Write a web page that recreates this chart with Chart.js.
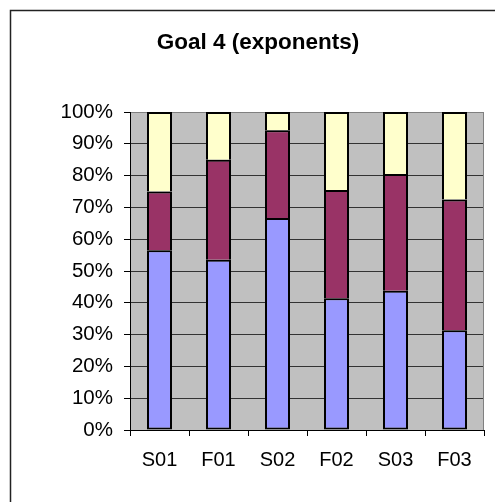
<!DOCTYPE html>
<html>
<head>
<meta charset="utf-8">
<script src="https://cdn.jsdelivr.net/npm/chart.js@4"></script>
<style>
html,body{margin:0;padding:0;background:#fff;}
#wrap{width:495px;height:502px;position:relative;}
</style>
</head>
<body>
<div id="wrap"><canvas id="c"></canvas></div>
<script>
const titleText = "Goal 4 (exponents)";
const categories = ["S01", "F01", "S02", "F02", "S03", "F03"];
const seriesBlue = [56.5, 53.5, 66.7, 41.4, 43.8, 31.4];
const seriesMaroon = [18.5, 31.5, 27.6, 34.1, 36.7, 41.1];
const seriesYellow = [25.0, 15.0, 5.7, 24.5, 19.5, 27.5];
const yTicks = [0, 10, 20, 30, 40, 50, 60, 70, 80, 90, 100];

const FONT = "'Liberation Sans', Arial, sans-serif";

const decor = {
  id: 'decor',
  beforeDraw(chart) {
    const ctx = chart.ctx, a = chart.chartArea;
    ctx.save();
    ctx.fillStyle = '#fff';
    ctx.fillRect(0, 0, chart.width, chart.height);
    ctx.fillStyle = '#C0C0C0';
    ctx.fillRect(a.left, a.top, a.right - a.left, a.bottom - a.top);
    ctx.strokeStyle = '#222';
    ctx.lineWidth = 1.5;
    ctx.strokeRect(10.5, 10.5, 700, 700);
    ctx.fillStyle = '#000';
    ctx.font = 'bold 22.5px ' + FONT;
    ctx.textAlign = 'center';
    ctx.textBaseline = 'alphabetic';
    ctx.fillText(titleText, 258, 49);
    ctx.restore();
  },
  beforeDatasetsDraw(chart) {
    const ctx = chart.ctx, a = chart.chartArea;
    ctx.save();
    ctx.strokeStyle = '#808080';
    ctx.lineWidth = 1;
    ctx.beginPath();
    ctx.moveTo(Math.round(a.right) - 0.5, a.top);
    ctx.lineTo(Math.round(a.right) - 0.5, a.bottom);
    ctx.stroke();
    ctx.restore();
  }
};

const common = { borderColor: '#000', borderSkipped: false, barThickness: 25, inflateAmount: 0 };
const fullBorder = { top: 2, bottom: 2, left: 2, right: 2 };
const openBottom = { top: 2, bottom: 0, left: 2, right: 2 };

new Chart(document.getElementById('c'), {
  type: 'bar',
  data: {
    labels: categories,
    datasets: [
      Object.assign({ label: 'A', data: seriesBlue, backgroundColor: '#9999FF', borderWidth: fullBorder }, common),
      Object.assign({ label: 'B', data: seriesMaroon, backgroundColor: '#993366', borderWidth: openBottom }, common),
      Object.assign({ label: 'C', data: seriesYellow, backgroundColor: '#FFFFCC', borderWidth: openBottom }, common)
    ]
  },
  options: {
    responsive: true,
    maintainAspectRatio: false,
    animation: false,
    devicePixelRatio: 1,
    layout: { padding: { left: 0, right: 11, top: 112, bottom: 0 } },
    plugins: { legend: { display: false }, title: { display: false }, tooltip: { enabled: false } },
    scales: {
      x: {
        stacked: true,
        afterFit(s) { s.height = 72; },
        grid: { display: true, offset: true, drawOnChartArea: false, drawTicks: true, tickLength: 6, color: '#000', tickColor: '#000' },
        border: { display: true, color: '#000', width: 1 },
        ticks: { color: '#000', font: { family: FONT, size: 20 }, padding: 12, maxRotation: 0, autoSkip: false }
      },
      y: {
        stacked: true,
        min: 0, max: 100,
        afterFit(s) { s.width = 130; },
        afterBuildTicks(s) { s.ticks = yTicks.map(v => ({ value: v })); },
        grid: {
          color: (c) => (c.tick && c.tick.value === 100) ? '#808080' : '#333333',
          tickColor: '#000', tickLength: 6, drawTicks: true, lineWidth: 1
        },
        border: { display: true, color: '#000', width: 1 },
        ticks: { color: '#000', font: { family: FONT, size: 20.5 }, padding: 11, callback: (v) => v + '%' }
      }
    }
  },
  plugins: [decor]
});
</script>
</body>
</html>
